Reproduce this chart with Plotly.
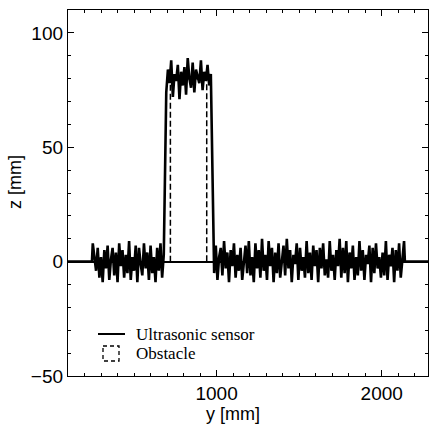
import numpy as np
import plotly.graph_objects as go

# ---- data ----
# ultrasonic sensor: flat at 0 outside the scanned span
flat_left_y = [100, 245]
flat_right_y = [2140, 2280]

noise1_start, noise1_step = 250, 10
noise1_z = [8, 3, -4, 6, -7, 2, -9, 5, -3, 7, -8, 1, 6, -6, 4, -9, 8, -2, 5, -7,
            3, -5, 9, -8, 2, -4, 7, -9, 6, -1, -6, 8, -3, 4, -8, 7, -5, 2, -9, 6,
            -4, 8, -7, 3]

plateau_start, plateau_step = 695, 10
plateau_z = [74, 84, 78, 88, 72, 82, 79, 86, 71, 83, 77, 85, 73, 89, 80, 76, 87,
             74, 84, 81, 78, 88, 75, 83, 79, 86, 77, 82]

noise2_start, noise2_step = 985, 10
noise2_z = [-5, 7, -8, 2, 6, -6, 9, -3, 4, -9, 5, -2, 8, -7, 3, -4, 6, -8, 1, 7,
            -5, 9, -6, 2, -9, 8, -3, 5, -7, 10, -4, 3, -8, 9, -2, 6, -9, 4, -5, 8,
            -7, 2, 7, -6, 10, -3, 5, -9, 3, -1, 8, -8, 6, -4, 2, -7, 9, -5, 4, -8,
            7, -2, 5, -9, 6, -3, 8, -6, 1, -7, 9, -4, 3, -8, 5, -2, 10, -7, 6, -5,
            9, -9, 4, -3, 7, -8, 2, -6, 9, -4, 5, -8, 3, -1, 7, -9, 6, -5, 8, -3,
            2, -7, 4, -6, 9, -8, 3, -2, 6, -9, 5, -4, 8, -7, 2, 9]

# obstacle outline
obstacle_y = [720, 720, 940, 940]
obstacle_z = [0, 80, 80, 0]

x_range = [100, 2280]
z_range = [-50, 110]

# ---- build sensor trace ----
n1_y = noise1_start + noise1_step * np.arange(len(noise1_z))
pl_y = plateau_start + plateau_step * np.arange(len(plateau_z))
n2_y = noise2_start + noise2_step * np.arange(len(noise2_z))

sensor_y = np.concatenate([flat_left_y, n1_y, pl_y, n2_y, flat_right_y])
sensor_z = np.concatenate([[0, 0], noise1_z, plateau_z, noise2_z, [0, 0]])

fig = go.Figure()
fig.add_trace(go.Scatter(x=obstacle_y, y=obstacle_z, mode="lines",
                         line=dict(color="black", width=1.5, dash="6px,3px"),
                         showlegend=False, hoverinfo="skip"))
fig.add_trace(go.Scatter(x=sensor_y, y=sensor_z, mode="lines",
                         line=dict(color="black", width=2.6),
                         showlegend=False, hoverinfo="skip"))

L, R, T, B = 68, 428, 10, 376
W, H = 430, 424

def px(xp):
    return (xp - L) / (R - L)

def py(yp):
    return (B - yp) / (B - T)

tickfont = dict(family="Liberation Sans, Arial, sans-serif", size=19, color="black")
titlefont = dict(family="Liberation Sans, Arial, sans-serif", size=18, color="black")
serif = dict(family="Liberation Serif, Times New Roman, serif", size=17, color="black")

fig.update_layout(
    width=W, height=H,
    margin=dict(l=L, r=W - R, t=T, b=H - B),
    paper_bgcolor="white", plot_bgcolor="white",
    showlegend=False,
    xaxis=dict(range=x_range, tickvals=[1000, 2000], ticks="inside", ticklen=6,
               tickwidth=1.2, tickcolor="black",
               minor=dict(dtick=100, tick0=0, ticks="inside", ticklen=3,
                          tickcolor="black", tickwidth=1),
               showline=True, linecolor="black", linewidth=1.3, mirror="allticks",
               showgrid=False, zeroline=False, tickfont=tickfont),
    yaxis=dict(range=z_range, tickvals=[-50, 0, 50, 100], ticks="inside", ticklen=6,
               tickwidth=1.2, tickcolor="black",
               minor=dict(dtick=10, tick0=0, ticks="inside", ticklen=3,
                          tickcolor="black", tickwidth=1),
               showline=True, linecolor="black", linewidth=1.3, mirror="allticks",
               showgrid=False, zeroline=True, zerolinecolor="black",
               zerolinewidth=1.6, tickfont=tickfont),
)

# axis titles
fig.add_annotation(text="y [mm]", xref="paper", yref="paper", x=px(233), y=py(414),
                   showarrow=False, font=titlefont, xanchor="center", yanchor="middle")
fig.add_annotation(text="z [mm]", xref="paper", yref="paper", x=px(15), y=py(182),
                   showarrow=False, font=titlefont, textangle=-90,
                   xanchor="center", yanchor="middle")

# legend (drawn manually)
fig.add_shape(type="line", xref="paper", yref="paper", x0=px(98), x1=px(125),
              y0=py(334), y1=py(334), line=dict(color="black", width=2))
fig.add_shape(type="rect", xref="paper", yref="paper", x0=px(103), x1=px(119),
              y0=py(346), y1=py(361), line=dict(color="black", width=1.3, dash="4px,3px"))
fig.add_annotation(text="Ultrasonic sensor", xref="paper", yref="paper",
                   x=px(134), y=py(334), showarrow=False, font=serif,
                   xanchor="left", yanchor="middle")
fig.add_annotation(text="Obstacle", xref="paper", yref="paper",
                   x=px(134), y=py(353), showarrow=False, font=serif,
                   xanchor="left", yanchor="middle")

fig.write_html("out.html")
